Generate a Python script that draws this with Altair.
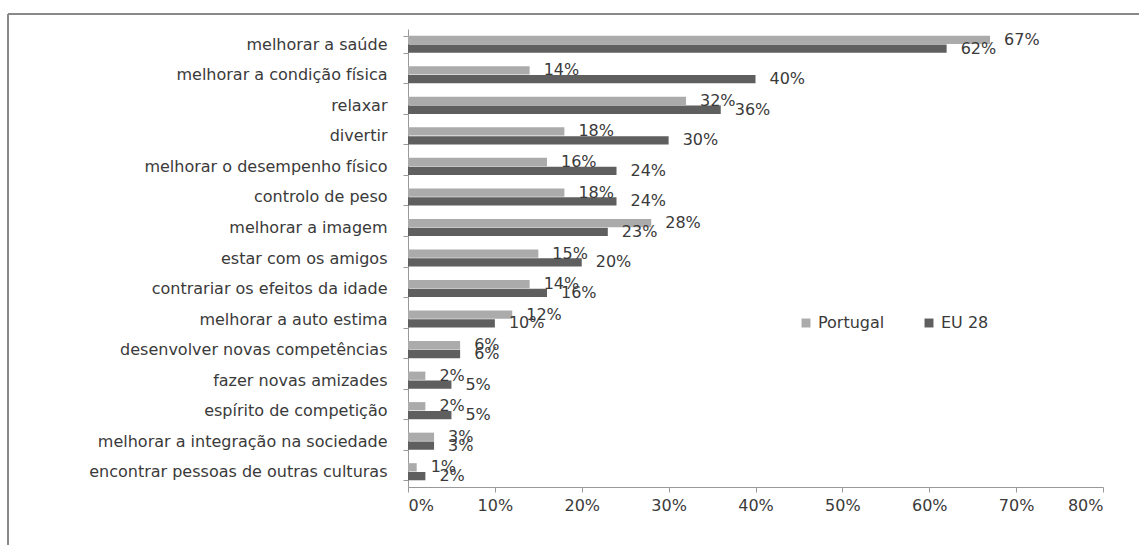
import altair as alt
import pandas as pd

categories = [
    "melhorar a saúde",
    "melhorar a condição física",
    "relaxar",
    "divertir",
    "melhorar o desempenho físico",
    "controlo de peso",
    "melhorar a imagem",
    "estar com os amigos",
    "contrariar os efeitos da idade",
    "melhorar a auto estima",
    "desenvolver novas competências",
    "fazer novas amizades",
    "espírito de competição",
    "melhorar a integração na sociedade",
    "encontrar pessoas de outras culturas",
]
portugal = [67, 14, 32, 18, 16, 18, 28, 15, 14, 12, 6, 2, 2, 3, 1]
eu28 = [62, 40, 36, 30, 24, 24, 23, 20, 16, 10, 6, 5, 5, 3, 2]
series = ["Portugal", "EU 28"]
colors = ["#ababab", "#5f5f5f"]

rows = []
for i, c in enumerate(categories):
    rows.append({"cat": c, "serie": "Portugal", "v": portugal[i] / 100, "lbl": f"{portugal[i]}%"})
    rows.append({"cat": c, "serie": "EU 28", "v": eu28[i] / 100, "lbl": f"{eu28[i]}%"})
df = pd.DataFrame(rows)

FONT = "DejaVu Sans"
FS = 16
TXT = "#3a3a3a"
W, H = 695, 458

y = alt.Y("cat:N", sort=categories, title=None,
          scale=alt.Scale(paddingInner=0.44, paddingOuter=0.22),
          axis=alt.Axis(labelFont=FONT, labelFontSize=FS, labelColor=TXT,
                        labelPadding=16, tickSize=5, tickColor="#999999",
                        domainColor="#999999", bandPosition=0, labelLimit=420,
                        tickBand="extent"))
yoff = alt.YOffset("serie:N", sort=series, scale=alt.Scale(paddingInner=0.06))
x = alt.X("v:Q", title=None,
          scale=alt.Scale(domain=[0, 0.8], nice=False),
          axis=alt.Axis(format="%", values=[i / 10 for i in range(9)], grid=False,
                        labelFont=FONT, labelFontSize=FS, labelColor=TXT,
                        tickColor="#999999", domainColor="#999999", tickSize=5,
                        labelPadding=5))

base = alt.Chart(df)
bars = base.mark_bar().encode(
    y=y, yOffset=yoff, x=x,
    color=alt.Color("serie:N", sort=series,
                    scale=alt.Scale(domain=series, range=colors),
                    legend=alt.Legend(title=None, orient="none", legendX=390, legendY=286,
                                      direction="horizontal", symbolType="square",
                                      symbolSize=80, symbolStrokeWidth=0,
                                      labelFont=FONT, labelFontSize=FS,
                                      labelColor=TXT, columnPadding=36)),
)
labels = base.mark_text(align="left", baseline="middle", dx=14, font=FONT,
                        fontSize=FS, color=TXT).encode(
    y=alt.Y("cat:N", sort=categories), yOffset=yoff, x="v:Q", text="lbl:N")

top_line = alt.Chart(df).mark_rule(color="#888888").encode(
    x=alt.value(-400), x2=alt.value(740), y=alt.value(-15))
left_line = alt.Chart(df).mark_rule(color="#888888").encode(
    x=alt.value(-400), y=alt.value(-15), y2=alt.value(540))

chart = alt.layer(bars, labels, top_line, left_line).properties(
    width=W, height=H,
    autosize=alt.AutoSizeParams(type="none"),
    padding={"left": 408, "top": 29, "right": 36, "bottom": 58},
).configure(background="white", view=alt.ViewConfig(stroke="transparent"))

chart.save("out.html", embed_options={"renderer": "svg", "actions": False})
